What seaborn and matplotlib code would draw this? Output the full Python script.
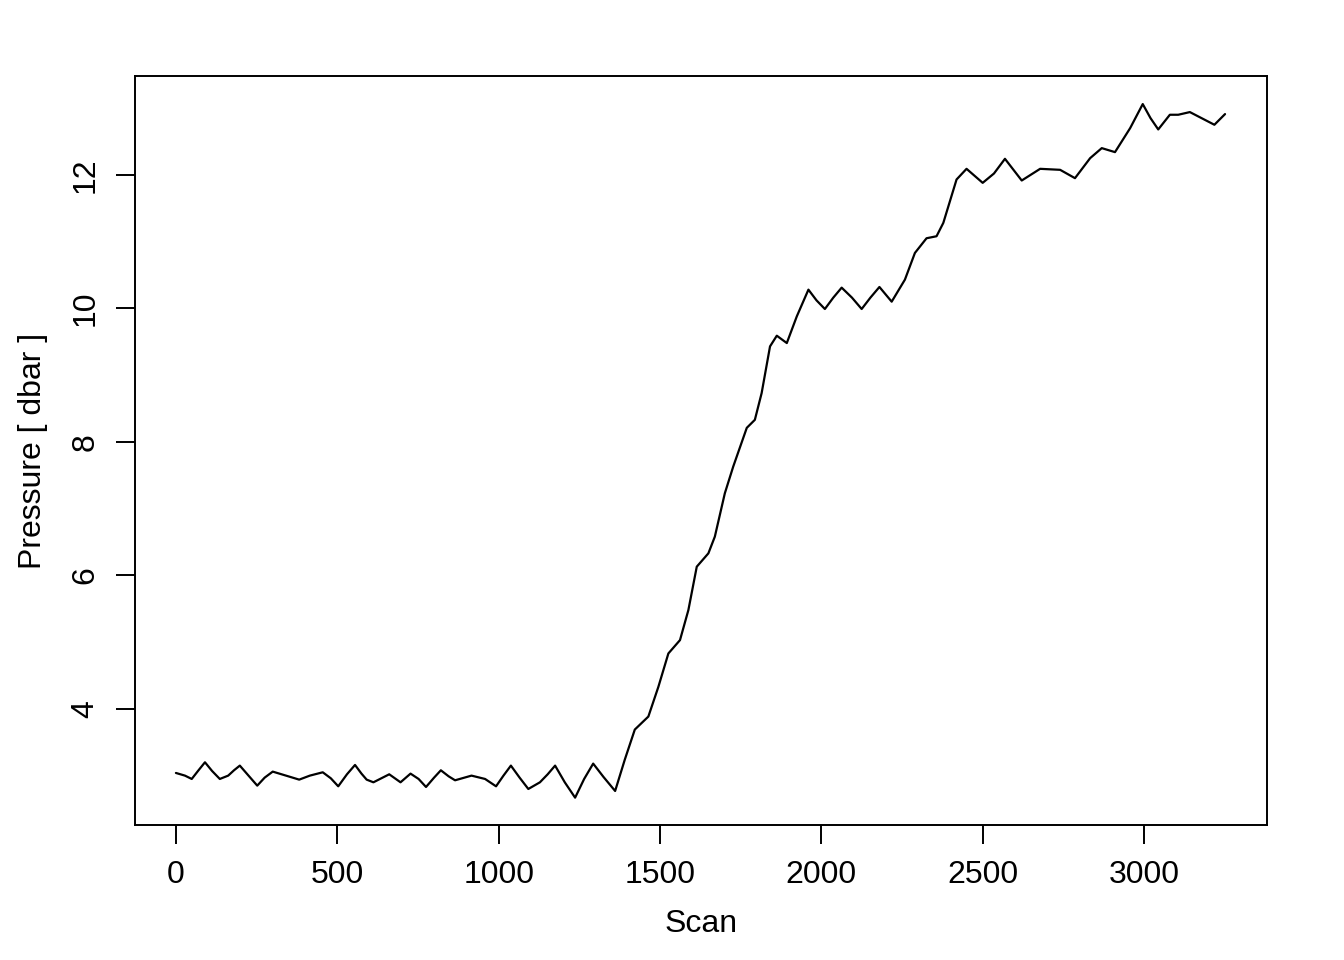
import pandas as pd
import seaborn as sns
from matplotlib import pyplot as plt

# values
scan = [0, 28, 49, 70, 90, 112, 136, 162, 180, 198, 225, 252, 275, 300, 348,
        382, 415, 455, 480, 503, 530, 555, 575, 591, 612, 661, 696, 727, 752,
        775, 800, 821, 845, 865, 916, 958, 992, 1015, 1038, 1065, 1092, 1128,
        1152, 1175, 1205, 1237, 1265, 1293, 1325, 1361, 1391, 1422, 1464,
        1495, 1526, 1562, 1588, 1614, 1650, 1670, 1701, 1727, 1769, 1794,
        1815, 1841, 1862, 1893, 1924, 1960, 1985, 2011, 2037, 2063, 2095,
        2125, 2152, 2180, 2218, 2259, 2290, 2326, 2357, 2378, 2419, 2450,
        2500, 2535, 2569, 2621, 2678, 2740, 2786, 2833, 2869, 2910, 2957,
        2996, 3020, 3044, 3080, 3106, 3142, 3218, 3251]
pressure = [3.04, 3.00, 2.95, 3.08, 3.20, 3.07, 2.95, 3.00, 3.08, 3.15, 3.00,
            2.85, 2.97, 3.06, 2.99, 2.94, 3.00, 3.05, 2.96, 2.84, 3.02, 3.16,
            3.03, 2.94, 2.90, 3.02, 2.90, 3.03, 2.95, 2.83, 2.97, 3.08, 2.99,
            2.93, 3.00, 2.95, 2.84, 3.00, 3.15, 2.97, 2.80, 2.90, 3.02, 3.15,
            2.90, 2.67, 2.95, 3.18, 2.98, 2.77, 3.24, 3.69, 3.885, 4.33, 4.83,
            5.03, 5.48, 6.13, 6.33, 6.58, 7.23, 7.63, 8.21, 8.33, 8.73, 9.43,
            9.59, 9.48, 9.88, 10.28, 10.12, 9.99, 10.16, 10.31, 10.16, 9.99,
            10.16, 10.32, 10.10, 10.43, 10.83, 11.05, 11.08, 11.28, 11.93,
            12.09, 11.88, 12.02, 12.24, 11.915, 12.09, 12.075, 11.95, 12.25,
            12.40, 12.34, 12.70, 13.06, 12.85, 12.68, 12.90, 12.90, 12.94,
            12.75, 12.91]
x_ticks = [0, 500, 1000, 1500, 2000, 2500, 3000]
y_ticks = [4, 6, 8, 10, 12]

df = pd.DataFrame({"Scan": scan, "Pressure": pressure})

sns.set_style("ticks")
plt.rcParams['font.family'] = ['Liberation Sans', 'DejaVu Sans']

fig = plt.figure(figsize=(13.44, 9.6), dpi=100)
ax = fig.add_axes([0.1004, 0.1406, 0.8423, 0.7802])

sns.lineplot(x="Scan", y="Pressure", data=df, ax=ax, color="black",
             linewidth=1.6, sort=False)
ax.lines[0].set_solid_joinstyle("round")

ax.set_xlim(-127, 3381)
ax.set_ylim(2.26, 13.48)
ax.set_xticks(x_ticks)
ax.set_yticks(y_ticks)
ax.set_xticklabels([str(v) for v in x_ticks])
ax.set_yticklabels([str(v) for v in y_ticks], rotation=90, va="center")
ax.tick_params(axis="both", length=14, width=1.4, colors="black",
               labelsize=23, pad=11)

for side in ["left", "right", "top", "bottom"]:
    ax.spines[side].set_visible(True)
    ax.spines[side].set_linewidth(1.4)
    ax.spines[side].set_color("black")

ax.set_xlabel("Scan", fontsize=23, labelpad=14, color="black")
ax.set_ylabel("Pressure [ dbar ]", fontsize=23, labelpad=16, color="black")

fig.savefig("out.png", dpi=100)
